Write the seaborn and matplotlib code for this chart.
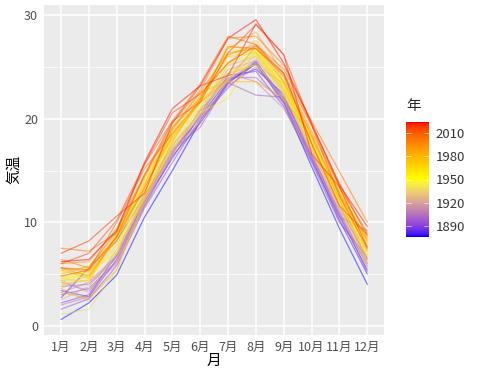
import numpy as np
import pandas as pd
import matplotlib
matplotlib.use("Agg")
import matplotlib.pyplot as plt
from matplotlib.colors import LinearSegmentedColormap, Normalize
from matplotlib.cm import ScalarMappable
from matplotlib.ticker import MultipleLocator
import seaborn as sns

# ---------------------------------------------------------------
# datos: temperatura media mensual (lecturas aproximadas del gráfico)
# ---------------------------------------------------------------
meses = [1, 2, 3, 4, 5, 6, 7, 8, 9, 10, 11, 12]
etiquetas_mes = ["1月", "2月", "3月", "4月", "5月", "6月",
                 "7月", "8月", "9月", "10月", "11月", "12月"]

anios = [1876, 1880, 1884, 1888, 1892, 1896, 1900, 1904, 1908, 1912,
         1916, 1920, 1924, 1928, 1932, 1936, 1940, 1944, 1948, 1952,
         1956, 1960, 1964, 1968, 1972, 1976, 1980, 1984, 1988, 1992,
         1996, 2000, 2004, 2008, 2012, 2016, 2020, 2024]

temperaturas = [
    [0.6, 2.2, 4.9, 10.5, 15.0, 19.8, 23.6, 25.3, 21.6, 15.4, 9.4, 4.0],
    [2.7, 5.6, 8.2, 12.6, 16.8, 20.2, 23.8, 24.8, 22.4, 16.2, 10.2, 5.0],
    [3.4, 2.8, 6.4, 11.6, 16.4, 19.6, 23.4, 25.6, 21.8, 16.0, 10.6, 5.4],
    [2.2, 3.0, 6.8, 12.0, 16.2, 20.4, 24.2, 24.6, 21.2, 15.8, 10.0, 6.6],
    [1.6, 2.6, 5.8, 11.4, 15.8, 20.0, 23.0, 25.5, 22.0, 16.4, 10.8, 5.2],
    [3.0, 3.6, 6.2, 12.2, 17.0, 19.2, 23.5, 22.3, 22.1, 16.6, 11.0, 5.8],
    [3.8, 4.0, 6.6, 11.8, 16.6, 20.8, 24.0, 24.0, 21.6, 16.2, 10.5, 9.2],
    [2.0, 2.8, 7.0, 12.4, 16.8, 20.2, 23.2, 25.0, 22.2, 16.8, 10.4, 6.0],
    [4.2, 3.4, 6.0, 11.8, 17.2, 19.6, 23.8, 25.4, 21.4, 16.4, 11.6, 6.4],
    [3.2, 4.2, 6.8, 12.6, 17.4, 20.6, 24.4, 23.6, 21.0, 16.2, 10.8, 6.2],
    [4.4, 3.2, 7.4, 12.2, 16.6, 21.0, 23.6, 25.8, 22.6, 17.0, 11.4, 5.6],
    [2.5, 3.8, 6.8, 13.0, 17.6, 20.4, 24.8, 25.6, 21.8, 16.6, 11.2, 6.8],
    [3.6, 2.4, 7.0, 12.4, 17.0, 20.8, 25.2, 26.0, 22.8, 17.2, 11.8, 6.0],
    [4.0, 4.4, 6.4, 11.8, 16.8, 19.8, 23.8, 26.2, 22.4, 16.8, 11.4, 6.4],
    [3.6, 5.0, 7.8, 12.8, 17.2, 20.2, 24.4, 26.4, 23.0, 17.2, 12.0, 7.2],
    [1.1, 1.6, 5.4, 12.2, 17.4, 21.2, 24.8, 25.2, 22.6, 16.8, 11.4, 5.8],
    [4.8, 4.6, 7.6, 12.4, 17.0, 20.6, 25.6, 26.0, 23.2, 17.6, 12.2, 6.8],
    [4.2, 5.6, 8.0, 12.8, 18.2, 21.0, 23.8, 26.6, 22.6, 17.4, 11.8, 7.0],
    [5.2, 5.0, 7.4, 13.4, 17.8, 21.6, 26.8, 26.2, 22.4, 17.8, 12.4, 7.4],
    [4.6, 4.8, 8.4, 13.6, 18.4, 21.4, 25.2, 26.8, 23.4, 17.6, 12.6, 6.6],
    [3.8, 5.4, 7.0, 12.6, 17.6, 20.6, 22.0, 26.6, 23.6, 17.2, 12.0, 7.6],
    [4.8, 5.2, 8.6, 13.8, 18.6, 21.8, 27.2, 26.4, 23.4, 18.2, 12.8, 7.8],
    [4.4, 4.4, 8.8, 14.6, 18.0, 21.6, 26.2, 26.8, 23.0, 17.6, 12.4, 8.2],
    [4.6, 4.2, 9.0, 13.8, 18.8, 22.2, 26.0, 26.4, 22.8, 18.0, 13.0, 8.4],
    [5.4, 5.6, 9.0, 14.2, 19.0, 22.2, 25.4, 27.6, 23.6, 18.6, 13.4, 8.0],
    [5.0, 5.8, 8.4, 13.4, 18.2, 21.6, 24.4, 25.2, 23.4, 17.8, 11.6, 7.2],
    [5.4, 4.6, 8.6, 13.6, 19.2, 22.6, 23.6, 23.6, 22.0, 18.2, 12.4, 7.6],
    [3.2, 2.6, 5.4, 12.2, 17.8, 22.0, 26.8, 28.4, 24.4, 17.6, 12.2, 6.4],
    [5.6, 5.2, 8.2, 13.4, 18.4, 21.6, 23.8, 27.0, 23.6, 18.4, 12.6, 8.2],
    [6.0, 6.2, 9.4, 14.6, 19.2, 22.0, 26.2, 27.2, 24.0, 18.4, 12.8, 8.4],
    [5.6, 4.8, 8.6, 13.2, 19.0, 22.6, 26.4, 26.8, 24.2, 18.8, 13.6, 8.8],
    [6.4, 5.6, 9.2, 14.4, 19.6, 22.8, 27.8, 28.0, 25.2, 19.4, 13.8, 8.6],
    [7.5, 7.2, 9.0, 15.6, 19.8, 23.4, 28.0, 27.2, 24.8, 19.8, 14.9, 10.0],
    [5.6, 5.4, 10.0, 15.2, 18.6, 21.8, 27.0, 26.8, 24.4, 19.4, 13.4, 9.0],
    [4.8, 5.4, 8.6, 14.6, 19.8, 21.6, 26.4, 29.1, 26.2, 19.4, 12.6, 7.4],
    [6.0, 7.0, 10.2, 15.6, 20.6, 22.4, 25.4, 27.1, 24.4, 17.6, 11.6, 8.8],
    [7.0, 8.2, 10.6, 12.8, 19.6, 23.2, 24.2, 29.2, 26.2, 16.6, 13.4, 7.6],
    [6.2, 6.4, 9.2, 15.8, 21.0, 23.2, 27.8, 29.6, 25.4, 19.6, 13.6, 9.6],
]

ticks_anio = [1890, 1920, 1950, 1980, 2010]

df = pd.DataFrame(temperaturas, index=anios, columns=meses)
df = df.reset_index(names="年").melt(id_vars="年", var_name="月", value_name="気温")


# escala de color tipo ggplot: blue -> yellow -> red interpolado en Lab
def srgb_a_lab(rgb):
    c = np.asarray(rgb, float)
    c = np.where(c > 0.04045, ((c + 0.055) / 1.055) ** 2.4, c / 12.92)
    m = np.array([[0.4124, 0.3576, 0.1805],
                  [0.2126, 0.7152, 0.0722],
                  [0.0193, 0.1192, 0.9505]])
    xyz = m @ c / np.array([0.95047, 1.0, 1.08883])
    f = np.where(xyz > 0.008856, np.cbrt(xyz), 7.787 * xyz + 16 / 116)
    return np.array([116 * f[1] - 16, 500 * (f[0] - f[1]), 200 * (f[1] - f[2])])


def lab_a_srgb(lab):
    fy = (lab[0] + 16) / 116
    fx = fy + lab[1] / 500
    fz = fy - lab[2] / 200
    f = np.array([fx, fy, fz])
    xyz = np.where(f ** 3 > 0.008856, f ** 3, (f - 16 / 116) / 7.787)
    xyz = xyz * np.array([0.95047, 1.0, 1.08883])
    minv = np.array([[3.2406, -1.5372, -0.4986],
                     [-0.9689, 1.8758, 0.0415],
                     [0.0557, -0.2040, 1.0570]])
    c = minv @ xyz
    c = np.where(c > 0.0031308, 1.055 * np.clip(c, 0, None) ** (1 / 2.4) - 0.055, 12.92 * c)
    return np.clip(c, 0, 1)


anclas = [srgb_a_lab(c) for c in [(0, 0, 1), (1, 1, 0), (1, 0, 0)]]
colores = []
for i in range(2):
    for t in np.linspace(0, 1, 64):
        colores.append(lab_a_srgb(anclas[i] * (1 - t) + anclas[i + 1] * t))
cmap = LinearSegmentedColormap.from_list("gg", colores)
norma = Normalize(vmin=min(anios), vmax=max(anios))

# ---------------------------------------------------------------
# gráfico
# ---------------------------------------------------------------
sns.set_theme(style="darkgrid", rc={
    "axes.facecolor": "#EBEBEB",
    "grid.color": "white",
    "figure.facecolor": "white",
})
plt.rcParams["font.family"] = ["Noto Sans CJK JP", "DejaVu Sans"]

fig = plt.figure(figsize=(4.8, 3.74), dpi=100)
ax = fig.add_axes([0.0923, 0.1056, 0.7077, 0.882])

sns.lineplot(data=df, x="月", y="気温", hue="年", units="年", estimator=None,
             palette=cmap, hue_norm=norma, alpha=0.5, linewidth=0.9,
             legend=False, ax=ax)

ymin = df["気温"].min()
ymax = df["気温"].max()
pad = (ymax - ymin) * 0.05
ax.set_ylim(ymin - pad, ymax + pad)
ax.set_xlim(0.4, 12.6)
ax.set_xticks(meses)
ax.set_xticklabels(etiquetas_mes)
ax.set_yticks([0, 10, 20, 30])
ax.yaxis.set_minor_locator(MultipleLocator(5))
ax.grid(which="major", color="white", linewidth=1.1)
ax.grid(which="minor", axis="y", color="white", linewidth=0.55)
for s in ax.spines.values():
    s.set_visible(False)
ax.tick_params(which="major", length=3, width=0.8, color="#333333",
               labelcolor="#4D4D4D", labelsize=9, pad=1.5)
ax.tick_params(which="minor", length=0)
ax.set_xlabel("月", fontsize=10.5, color="black", labelpad=0)
ax.set_ylabel("気温", fontsize=10.5, color="black", labelpad=2)

# barra de color
cax = fig.add_axes([406 / 480, (374 - 236.7) / 374, 23 / 480, 114.4 / 374])
sm = ScalarMappable(norm=norma, cmap=cmap)
cb = fig.colorbar(sm, cax=cax, ticks=ticks_anio)
cb.outline.set_visible(False)
cax.tick_params(length=0, labelsize=9.5, labelcolor="#333333", pad=5)
for y in ticks_anio:
    cax.plot([0, 0.2], [y, y], color="white", lw=0.6, alpha=0.7)
    cax.plot([0.8, 1], [y, y], color="white", lw=0.6, alpha=0.7)
cax.set_xlim(0, 1)
fig.text(406 / 480, 1 - 106 / 374, "年", fontsize=10.5, va="center", ha="left")

fig.savefig("out.png", dpi=100)
